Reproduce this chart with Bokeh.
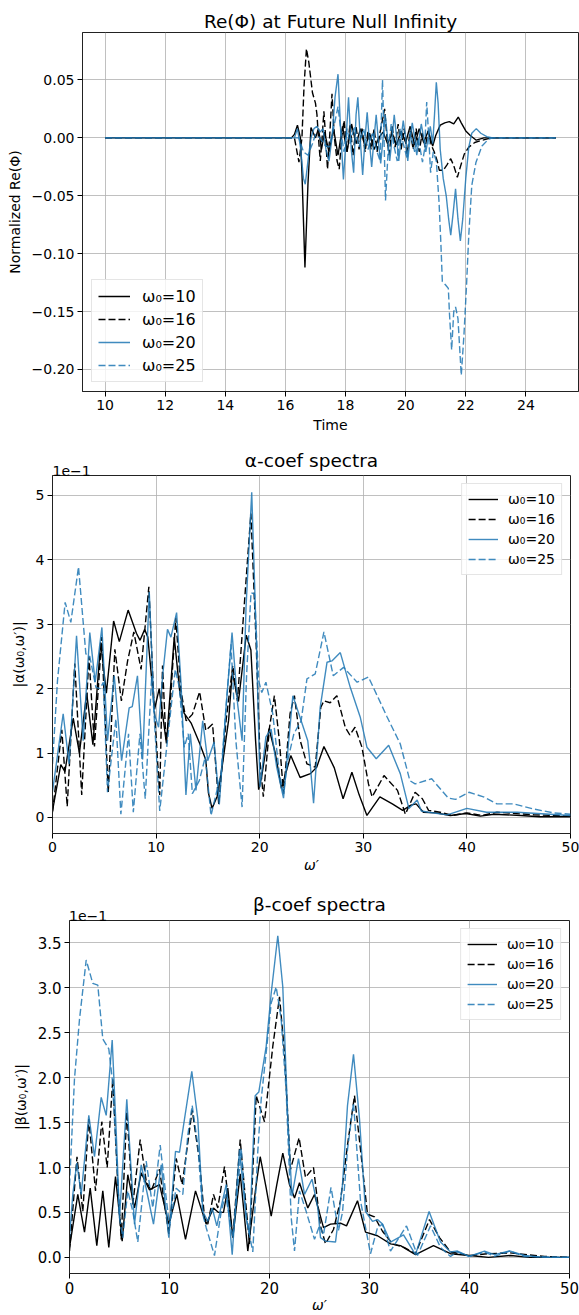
from bokeh.plotting import figure
from bokeh.models import Range1d, FixedTicker, CustomJSTickFormatter, LinearAxis, Column
from bokeh.embed import file_html
from bokeh.resources import INLINE

FONT = "DejaVu Sans"
BLACK = "#000000"
BLUE = "#1f77b4"

labels = ["ω₀=10", "ω₀=16", "ω₀=20", "ω₀=25"]

# ---------------- Re(Phi) at future null infinity ----------------
t_w10 = [10, 16.2, 16.3, 16.4, 16.5, 16.55, 16.65, 16.75, 16.85, 17.0, 17.1, 17.2, 17.3, 17.45, 17.6, 17.75, 17.9,
         18.05, 18.2, 18.35, 18.5, 18.65, 18.8, 18.95, 19.1, 19.25, 19.4, 19.55, 19.7, 19.85, 20.0, 20.15, 20.3,
         20.45, 20.6, 20.75, 20.9, 21.0, 21.15, 21.3, 21.45, 21.6, 21.75, 21.85, 22.0, 22.15, 22.35, 22.6, 25]
re_w10 = [0, 0, 0.003, 0.011, 0.0, -0.03, -0.112, -0.04, 0.009, 0.0, 0.008, -0.01, 0.005, -0.012, 0.008, -0.015, 0.01,
          -0.012, 0.012, -0.005, 0.008, -0.008, 0.004, -0.01, 0.0, 0.005, -0.005, 0.004, -0.006, 0.006, -0.004, 0.01, -0.006,
          0.008, -0.004, 0.006, -0.007, 0.002, 0.011, 0.013, 0.014, 0.012, 0.018, 0.013, 0.006, 0.002, -0.002, 0.0, 0]

t_w16 = [10, 16.3, 16.45, 16.55, 16.62, 16.7, 16.78, 16.9, 17.0, 17.05, 17.1, 17.16, 17.22, 17.28, 17.34, 17.4, 17.47,
         17.55, 17.63, 17.72, 17.79, 17.87, 17.95, 18.05, 18.15, 18.25, 18.35, 18.45, 18.55, 18.65, 18.75, 18.85,
         18.95, 19.05, 19.15, 19.3, 19.38, 19.45, 19.55, 19.65, 19.75, 19.85, 19.95, 20.05, 20.15, 20.25, 20.35,
         20.45, 20.55, 20.65, 20.75, 20.85, 20.95, 21.05, 21.12, 21.25, 21.38, 21.5, 21.6, 21.72, 21.82, 21.95,
         22.1, 22.3, 22.55, 22.85, 25]
re_w16 = [0, 0, -0.021, 0.0, 0.045, 0.077, 0.065, 0.039, 0.03, 0.02, 0.0, -0.02, 0.0, 0.023, 0.0, -0.027, 0.0,
          0.038, 0.0, -0.02, -0.027, 0.0, 0.015, -0.012, 0.012, -0.015, 0.01, -0.01, 0.008, -0.012, 0.006, -0.01,
          0.008, -0.012, 0.005, 0.025, 0.0, -0.015, 0.01, -0.008, 0.012, -0.01, 0.008, -0.014, 0.006, -0.01, 0.008,
          -0.012, 0.004, -0.008, 0.006, -0.006, -0.012, -0.02, -0.028, -0.028, -0.023, -0.018, -0.024, -0.034, -0.025, -0.014,
          -0.008, -0.004, -0.002, 0.0, 0]

t_w20 = [10, 16.3, 16.4, 16.5, 16.6, 16.66, 16.75, 16.85, 16.95, 17.05, 17.15, 17.25, 17.35, 17.45, 17.55, 17.65,
         17.75, 17.85, 17.93, 18.02, 18.1, 18.19, 18.27, 18.35, 18.41, 18.5, 18.57, 18.65, 18.72, 18.8, 18.87, 18.95,
         19.02, 19.1, 19.17, 19.25, 19.32, 19.4, 19.47, 19.55, 19.62, 19.7, 19.77, 19.85, 19.92, 20.0, 20.07, 20.15,
         20.22, 20.3, 20.37, 20.45, 20.52, 20.6, 20.67, 20.75, 20.82, 20.9, 20.96, 21.02, 21.08, 21.15, 21.25, 21.35,
         21.43, 21.5, 21.58, 21.66, 21.74, 21.82, 21.9, 22.0, 22.1, 22.2, 22.35, 22.5, 22.7, 22.9, 25]
re_w20 = [0, 0, 0.008, -0.008, -0.035, -0.04, -0.02, 0.0, 0.008, 0.01, 0.005, 0.008, -0.01, -0.02, 0.0, 0.035,
          0.055, 0.0, -0.036, 0.0, 0.035, -0.01, -0.03, 0.02, 0.035, -0.005, -0.032, 0.0, 0.022, -0.005, -0.025, 0.0,
          0.02, -0.005, -0.022, 0.0, 0.02, 0.0, -0.02, 0.0, 0.02, 0.0, -0.02, 0.0, 0.015, 0.0, -0.02, 0.0,
          0.013, 0.0, -0.015, 0.0, 0.012, 0.0, -0.012, 0.0, 0.01, -0.005, 0.02, 0.048, 0.03, -0.01, -0.035, -0.05,
          -0.07, -0.084, -0.065, -0.044, -0.07, -0.089, -0.07, -0.035, -0.008, 0.004, 0.008, 0.004, 0.001, 0.0, 0]

t_w25 = [10, 16.3, 16.45, 16.6, 16.75, 16.9, 17.0, 17.15, 17.3, 17.45, 17.6, 17.75, 17.85, 17.95, 18.05, 18.15,
         18.3, 18.45, 18.6, 18.75, 18.9, 19.05, 19.15, 19.23, 19.28, 19.33, 19.42, 19.52, 19.62, 19.72, 19.82, 19.92,
         20.05, 20.15, 20.3, 20.42, 20.56, 20.63, 20.7, 20.77, 20.83, 20.92, 21.02, 21.11, 21.17, 21.22, 21.33,
         21.42, 21.46, 21.53, 21.6, 21.66, 21.74, 21.85, 21.94, 22.02, 22.1, 22.2, 22.34, 22.54, 22.76, 22.9, 25]
re_w25 = [0, 0, 0.0, -0.012, -0.015, -0.005, 0.003, 0.0, -0.006, -0.008, 0.008, 0.027, 0.005, -0.012, 0.008, -0.005,
          0.01, -0.008, 0.008, -0.01, 0.005, -0.012, -0.02, 0.05, 0.0, -0.054, -0.01, 0.012, -0.008, -0.02, 0.008, -0.005,
          -0.018, 0.005, -0.012, 0.0, -0.021, -0.01, 0.031, 0.0, -0.03, -0.012, -0.02, -0.055, -0.09, -0.124, -0.127,
          -0.13, -0.153, -0.183, -0.15, -0.146, -0.156, -0.205, -0.17, -0.13, -0.084, -0.041, -0.021, -0.007, -0.001, 0.0, 0]

# ---------------- alpha spectra (units of 1e-1) ----------------
wa_10 = [0, 0.8, 1.2, 2.0, 2.6, 3.3, 3.9, 4.65, 5.2, 5.9, 6.45, 7.3, 8.1, 8.45, 8.9, 9.2, 9.85, 10.3, 11.0, 11.75,
         12.3, 12.7, 13.4, 14.2, 14.8, 15.05, 15.4, 15.9, 16.35, 17.0, 17.35, 17.95, 18.7, 19.15, 19.6, 19.9, 20.2,
         20.9, 21.5, 22.1, 23.0, 23.9, 24.9, 25.5, 26.2, 27.2, 28.05, 28.9, 29.6, 30.35, 31.6, 32.8, 33.8, 34.6,
         35.1, 35.8, 37.0, 38.4, 39.9, 41.3, 42.6, 45.2, 47.0, 50]
alpha_10 = [0.1, 0.82, 0.71, 1.54, 1.0, 1.93, 1.13, 2.72, 1.93, 3.05, 2.73, 3.22, 2.86, 2.75, 2.92, 2.8, 1.68, 2.0, 1.15, 2.8,
            1.93, 1.62, 1.46, 1.15, 0.89, 0.38, 0.14, 0.33, 0.76, 1.51, 2.25, 1.8, 2.83, 2.6, 1.2, 0.43, 0.64,
            1.38, 1.0, 0.45, 0.96, 0.62, 0.68, 0.78, 1.1, 0.77, 0.29, 0.7, 0.35, 0.03, 0.32, 0.21, 0.11, 0.19,
            0.21, 0.08, 0.07, 0.03, 0.06, 0.02, 0.05, 0.03, 0.01, 0.01]

wa_16 = [0, 0.9, 1.42, 2.15, 2.82, 3.52, 4.05, 4.75, 5.38, 6.02, 6.65, 7.25, 7.85, 8.55, 9.3, 9.8, 10.35, 10.62,
         10.95, 11.3, 11.9, 12.4, 12.9, 13.5, 14.2, 14.8, 15.45, 16.05, 16.75, 17.4, 17.85, 18.42, 19.15, 19.65,
         20.05, 20.35, 20.95, 21.42, 21.9, 22.3, 22.93, 23.35, 23.9, 24.56, 25.36, 25.9, 26.2, 26.8, 27.45, 28.26,
         28.7, 29.2, 29.87, 30.5, 30.85, 32.0, 33.3, 34.06, 35.0, 35.7, 36.3, 37.4, 38.6, 40.0, 41.5, 42.9, 46.5, 50]
alpha_16 = [0.08, 1.36, 0.17, 2.39, 0.35, 2.5, 1.1, 2.8, 0.38, 2.61, 1.81, 2.43, 2.88, 2.3, 3.58, 1.75, 0.35, 2.36,
            1.19, 1.6, 3.1, 1.97, 1.5, 1.6, 1.95, 1.35, 1.45, 0.2, 1.5, 2.36, 1.81, 3.1, 4.72, 2.74,
            0.83, 0.32, 1.4, 1.89, 1.19, 0.37, 1.61, 1.89, 1.2, 0.83, 0.78, 1.71, 1.81, 1.78, 1.89, 1.4,
            1.28, 1.4, 1.09, 0.52, 0.32, 0.65, 0.42, 0.05, 0.39, 0.29, 0.11, 0.08, 0.03, 0.07, 0.03, 0.08, 0.04, 0.02]

wa_20 = [0, 1.03, 1.6, 2.32, 2.96, 3.6, 4.12, 4.77, 5.31, 5.96, 6.67, 7.4, 7.7, 8.2, 8.7, 9.34, 9.82, 10.24, 10.63,
         11.1, 11.43, 11.98, 12.4, 12.88, 13.3, 13.85, 14.5, 14.98, 15.6, 16.1, 16.75, 17.33, 17.87, 18.3, 18.68,
         19.23, 19.7, 20.03, 20.6, 21.1, 21.64, 22.3, 23.2, 24.0, 24.64, 24.9, 25.2, 25.84, 26.5, 26.97, 27.78,
         28.74, 29.7, 30.35, 31.25, 32.45, 33.57, 34.4, 35.2, 35.6, 36.3, 38.1, 40.0, 41.9, 44.85, 50]
alpha_20 = [0.4, 1.61, 0.83, 2.82, 1.19, 2.87, 2.1, 2.95, 1.19, 2.2, 0.88, 1.7, 1.72, 2.2, 0.9, 3.5, 1.61, 1.4, 2.2,
            2.92, 2.8, 3.18, 2.1, 0.35, 1.3, 0.42, 1.5, 0.88, 1.17, 0.2, 1.71, 2.87, 1.76, 1.19, 3.26,
            5.05, 2.64, 0.47, 1.25, 1.37, 0.78, 0.3, 1.89, 1.5, 1.19, 0.78, 0.22, 1.71, 2.41, 2.43, 2.56,
            2.02, 1.56, 1.09, 0.91, 1.12, 0.68, 0.14, 0.27, 0.1, 0.08, 0.04, 0.14, 0.08, 0.08, 0.03]

wa_25 = [0, 0.48, 1.22, 1.77, 2.51, 3.22, 3.6, 4.19, 4.6, 4.9, 5.31, 6.12, 6.6, 7.34, 7.8, 8.44, 8.95, 9.58, 10.35,
         11.27, 11.85, 12.24, 12.72, 13.1, 13.5, 14.17, 14.75, 15.3, 15.8, 16.26, 16.75, 17.23, 17.7, 18.3, 18.74,
         19.16, 19.5, 19.9, 20.2, 20.6, 21.26, 21.9, 22.3, 22.7, 23.3, 24.0, 24.56, 25.36, 26.2, 27.1, 28.1, 29.4,
         30.5, 32.3, 33.57, 34.5, 35.0, 36.6, 38.2, 38.9, 40.2, 41.6, 42.9, 44.5, 46.45, 48.4, 50]
alpha_25 = [0.83, 2.12, 3.34, 3.03, 3.89, 2.54, 2.5, 2.02, 2.0, 2.1, 0.39, 1.53, 0.05, 1.3, 0.08, 1.3, 0.29, 2.2, 0.1,
            1.45, 2.3, 2.02, 1.09, 1.3, 0.37, 0.57, 0.94, 0.03, 0.37, 0.68, 1.71, 2.69, 1.19, 0.16, 2.23,
            3.49, 3.47, 2.12, 1.94, 2.1, 1.61, 0.68, 0.37, 0.88, 1.3, 1.5, 2.15, 2.23, 2.88, 2.2, 2.33, 2.1,
            2.18, 1.56, 1.14, 0.57, 0.52, 0.6, 0.3, 0.28, 0.39, 0.32, 0.21, 0.21, 0.13, 0.07, 0.05]

# ---------------- beta spectra (units of 1e-1) ----------------
wb_10 = [0, 0.83, 1.5, 2.07, 2.73, 3.33, 3.93, 4.6, 5.27, 5.83, 6.5, 7.17, 8.0, 9.0, 9.93, 10.73, 11.6, 12.6, 13.67,
         14.4, 14.9, 15.4, 15.83, 16.33, 17.07, 17.83, 18.67, 19.07, 19.67, 20.17, 20.73, 21.33, 22.0, 22.5, 23.0,
         23.83, 24.5, 25.4, 26.1, 27.1, 27.7, 28.8, 29.6, 30.8, 32.1, 33.1, 34.6, 36.4, 38.1, 40.0, 41.9, 44.1, 46.0, 50]
beta_10 = [0.11, 0.7, 0.28, 0.77, 0.13, 0.74, 0.11, 0.9, 0.18, 0.92, 0.55, 0.94, 0.75, 0.81, 0.37, 0.7, 0.2, 0.74, 0.37,
           0.55, 0.5, 0.5, 0.77, 0.22, 0.93, 0.07, 0.81, 1.12, 0.77, 0.46, 0.81, 1.16, 0.81, 0.66, 0.83,
           0.55, 0.7, 0.33, 0.37, 0.38, 0.35, 0.63, 0.28, 0.24, 0.15, 0.13, 0.03, 0.13, 0.04, 0.02, 0.0, 0.02, 0.0, 0.0]

wb_16 = [0, 0.75, 1.33, 1.93, 2.6, 3.23, 3.77, 4.33, 4.83, 5.17, 5.73, 6.33, 7.07, 7.67, 8.17, 9.0, 9.93, 10.67,
         11.27, 12.27, 13.0, 13.5, 13.83, 14.4, 14.83, 15.5, 16.33, 17.07, 17.67, 18.0, 18.67, 19.5, 20.33, 21.0,
         21.5, 22.1, 22.96, 23.6, 24.4, 25.1, 25.6, 26.4, 27.1, 27.8, 28.5, 29.1, 29.8, 30.5, 31.3, 32.3, 33.45,
         34.6, 36.0, 37.0, 38.1, 40.0, 41.8, 44.0, 47.5, 50]
beta_16 = [0.07, 1.12, 0.51, 1.54, 0.74, 1.51, 1.0, 1.99, 0.81, 0.2, 1.62, 0.59, 1.31, 0.85, 0.74, 0.98, 0.26, 1.1,
           0.81, 1.64, 1.07, 0.44, 0.37, 0.7, 0.55, 1.01, 0.22, 1.31, 0.55, 0.15, 1.8, 1.51, 2.35, 2.9,
           2.28, 0.98, 1.33, 0.89, 1.0, 0.35, 0.15, 0.31, 0.63, 1.25, 1.8, 1.2, 0.48, 0.45, 0.29, 0.15, 0.11,
           0.04, 0.42, 0.22, 0.06, 0.02, 0.04, 0.05, 0.01, 0.0]

wb_20 = [0, 0.33, 0.73, 1.17, 1.93, 2.5, 3.17, 3.67, 4.27, 4.67, 5.0, 5.73, 6.17, 6.5, 7.17, 7.83, 8.4, 9.17, 9.93,
         10.6, 11.0, 11.5, 12.23, 12.83, 13.33, 13.83, 14.27, 14.73, 15.67, 16.27, 17.0, 17.67, 18.0, 18.57, 18.93,
         19.67, 20.17, 20.83, 21.33, 21.83, 22.25, 22.9, 23.5, 24.25, 24.83, 25.1, 25.6, 26.6, 27.3, 27.8, 28.4,
         29.0, 29.6, 30.3, 30.8, 31.3, 32.1, 33.4, 34.6, 35.96, 37.1, 38.1, 38.8, 39.96, 41.5, 42.5, 44.0, 45.5, 47.5, 50]
beta_20 = [0.22, 0.7, 1.05, 0.7, 1.58, 1.12, 1.78, 1.58, 2.42, 1.4, 0.44, 1.76, 0.96, 0.37, 1.03, 0.68, 0.37, 1.03, 0.22,
           1.18, 1.17, 1.54, 2.07, 1.54, 0.51, 0.4, 0.55, 0.35, 0.81, 0.03, 1.2, 0.44, 0.25, 1.8, 1.84,
           2.35, 2.94, 3.58, 3.01, 1.54, 0.68, 1.1, 0.7, 0.87, 0.55, 0.22, 0.18, 0.17, 0.81, 1.69, 2.26,
           1.54, 0.51, 0.4, 0.42, 0.37, 0.17, 0.25, 0.03, 0.51, 0.17, 0.06, 0.07, 0.01, 0.07, 0.03, 0.07, 0.02, 0.0, 0.0]

wb_25 = [0, 0.5, 1.0, 1.67, 2.33, 2.83, 3.33, 3.93, 4.27, 4.67, 5.0, 5.33, 5.83, 6.33, 6.83, 7.67, 8.33, 9.07, 9.67,
         10.0, 10.67, 11.33, 11.83, 12.27, 12.83, 13.33, 13.67, 14.5, 15.17, 15.6, 16.33, 17.0, 17.17, 17.67, 18.33,
         18.83, 19.17, 19.67, 20.17, 20.67, 21.17, 21.67, 22.17, 22.5, 23.0, 23.67, 24.5, 25.0, 25.4, 26.15, 26.9,
         27.3, 27.8, 28.4, 29.1, 30.1, 30.8, 31.3, 32.1, 33.7, 34.8, 36.1, 37.1, 38.1, 38.8, 39.96, 41.5, 42.5,
         44.0, 45.5, 50]
beta_25 = [0.8, 1.99, 2.65, 3.31, 3.05, 3.03, 2.43, 2.32, 1.99, 1.18, 0.44, 0.22, 0.74, 0.51, 0.17, 1.07, 0.55, 1.25, 0.66,
           0.35, 0.77, 0.7, 1.36, 1.69, 1.25, 0.48, 0.33, 0.02, 0.51, 0.7, 0.22, 0.99, 1.21, 0.44, 0.06,
           1.18, 1.76, 2.28, 2.83, 3.01, 2.65, 1.84, 0.44, 0.07, 0.74, 0.51, 0.2, 0.35, 0.25, 0.78, 0.3,
           0.5, 1.2, 1.72, 0.63, 0.04, 0.33, 0.37, 0.07, 0.35, 0.02, 0.35, 0.11, 0.01, 0.06, 0.01, 0.06, 0.01,
           0.07, 0.01, 0.0]

time_ticks = [10, 12, 14, 16, 18, 20, 22, 24]
re_ticks = [-0.20, -0.15, -0.10, -0.05, 0.0, 0.05]
omega_ticks = [0, 10, 20, 30, 40, 50]
alpha_ticks = [0, 1, 2, 3, 4, 5]
beta_ticks = [0.0, 0.5, 1.0, 1.5, 2.0, 2.5, 3.0, 3.5]

STYLES = [(BLACK, "solid", 1.0), (BLACK, "7 3", 1.0), (BLUE, "solid", 0.85), (BLUE, "7 3", 0.85)]
TITLE_SIZE = "18.5px"


def style(p, xticks, yticks, yfmt, tick_size="14px"):
    p.xaxis.ticker = FixedTicker(ticks=xticks)
    p.yaxis.ticker = FixedTicker(ticks=yticks)
    p.yaxis.formatter = CustomJSTickFormatter(code=yfmt)
    p.xaxis.formatter = CustomJSTickFormatter(code="return tick.toFixed(0);")
    p.grid.grid_line_color = "#b0b0b0"
    p.grid.grid_line_alpha = 0.8
    p.grid.grid_line_width = 1
    p.outline_line_color = "#222222"
    p.outline_line_width = 1
    p.outline_line_alpha = 1
    p.axis.axis_line_color = "#222222"
    p.axis.minor_tick_line_color = None
    p.axis.major_tick_in = 0
    p.axis.major_tick_out = 5
    p.axis.major_tick_line_color = BLACK
    p.axis.major_label_standoff = 3
    p.axis.major_label_text_font = FONT
    p.axis.major_label_text_font_size = tick_size
    p.axis.major_label_text_color = BLACK
    p.axis.axis_label_text_font = FONT
    p.axis.axis_label_text_font_size = "14px"
    p.axis.axis_label_text_color = BLACK
    p.axis.axis_label_text_font_style = "normal"
    p.axis.axis_label_standoff = 6
    p.background_fill_color = "white"
    p.border_fill_color = "white"
    p.title.text_font = FONT
    p.title.text_font_size = TITLE_SIZE
    p.title.text_font_style = "normal"
    p.title.text_color = BLACK
    p.title.align = "center"


def header(p, x_offset_text, title_text, title_standoff, fallback_standoff):
    """Scale factor '1e-1' on the left above the frame, title centred on the same line."""
    try:
        p.title.standoff = title_standoff      # pull the title down onto the 1e-1 line
        p.title.text = title_text
        code = "return '1e\\u22121';"
        ticks = [x_offset_text]
        size = "14px"
        standoff = 0
    except Exception:
        code = "return tick < 10 ? '1e\\u22121' : '%s';" % title_text
        ticks = [x_offset_text, 25]
        size = "16px"
        standoff = fallback_standoff
    ax = LinearAxis(ticker=FixedTicker(ticks=ticks), formatter=CustomJSTickFormatter(code=code))
    ax.axis_line_color = None
    ax.major_tick_line_color = None
    ax.minor_tick_line_color = None
    ax.major_tick_out = 0
    ax.major_tick_in = 0
    ax.major_label_standoff = standoff
    ax.major_label_text_font = FONT
    ax.major_label_text_font_size = size
    ax.major_label_text_color = BLACK
    p.add_layout(ax, "above")


def add_lines(p, xs_list, ys_list):
    for (c, d, a), xs, ys, lab in zip(STYLES, xs_list, ys_list, labels):
        p.line(xs, ys, line_color=c, line_dash=d, line_alpha=a, line_width=1.4, legend_label=lab)


def style_legend(p, loc, size, lh, spacing, padding, margin, gw=32, standoff=12):
    lg = p.legend[0]
    lg.location = loc
    lg.label_text_font = FONT
    lg.label_text_font_size = size
    lg.label_text_color = BLACK
    lg.glyph_width = gw
    lg.glyph_height = lh
    lg.label_height = lh
    lg.label_standoff = standoff
    lg.spacing = spacing
    lg.padding = padding
    lg.margin = margin
    lg.border_line_color = "#cccccc"
    lg.border_line_width = 1
    lg.background_fill_alpha = 0.8


# ---------------- figure 1 ----------------
p1 = figure(width=579, height=440, x_range=Range1d(9.25, 25.75), y_range=Range1d(-0.219, 0.091),
            output_backend="svg", toolbar_location=None,
            min_border_left=82, min_border_right=1, min_border_top=32, min_border_bottom=49,
            title="Re(Φ) at Future Null Infinity")
add_lines(p1, [t_w10, t_w16, t_w20, t_w25], [re_w10, re_w16, re_w20, re_w25])
style(p1, time_ticks, re_ticks, "return tick.toFixed(2).replace('-', '\\u2212');")
p1.title.standoff = 2
p1.xaxis.axis_label = "Time"
p1.yaxis.axis_label = "Normalized Re(Φ)"
p1.xaxis.axis_label_standoff = 4
style_legend(p1, "bottom_left", "16px", 20, 3, 6, 9)

# ---------------- figure 2 ----------------
p2 = figure(width=579, height=440, x_range=Range1d(0, 50), y_range=Range1d(-0.25, 5.31),
            output_backend="svg", toolbar_location=None,
            min_border_left=52, min_border_right=9, min_border_top=35, min_border_bottom=47)
add_lines(p2, [wa_10, wa_16, wa_20, wa_25], [alpha_10, alpha_16, alpha_20, alpha_25])
style(p2, omega_ticks, alpha_ticks, "return tick.toFixed(0);")
bottom2 = p2.below[0]
bottom2.axis_label = "ω′"
bottom2.axis_label_text_font_style = "italic"
bottom2.axis_label_standoff = 2
p2.yaxis.axis_label = "|α(ω₀,ω′)|"
header(p2, 1.84, "α-coef spectra", -17, 2)
style_legend(p2, "top_right", "14px", 18, 2, 6, 8, gw=30, standoff=10)

# ---------------- figure 3 ----------------
p3 = figure(width=579, height=435, x_range=Range1d(0, 50), y_range=Range1d(-0.18, 3.75),
            output_backend="svg", toolbar_location=None,
            min_border_left=69, min_border_right=10, min_border_top=40, min_border_bottom=39)
add_lines(p3, [wb_10, wb_16, wb_20, wb_25], [beta_10, beta_16, beta_20, beta_25])
style(p3, omega_ticks, beta_ticks, "return tick.toFixed(1);", tick_size="15px")
bottom3 = p3.below[0]
bottom3.axis_label = "ω′"
bottom3.axis_label_text_font_style = "italic"
bottom3.axis_label_standoff = 0
p3.yaxis.axis_label = "|β(ω₀,ω′)|"
header(p3, 1.86, "β-coef spectra", -14, 4)
style_legend(p3, "top_right", "14px", 18, 2, 6, 8, gw=30, standoff=10)

# wrap each figure separately so that their frames are not aligned with each other
layout = Column(children=[Column(children=[p1]), Column(children=[p2]), Column(children=[p3])], spacing=0)
open("out.html", "w").write(file_html(layout, INLINE))
